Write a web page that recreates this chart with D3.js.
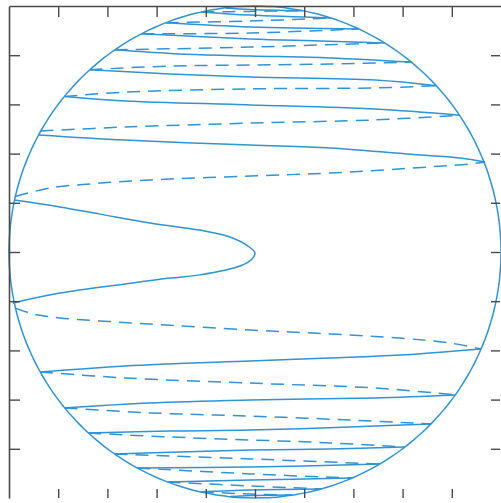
<!DOCTYPE html>
<html>
<head>
<meta charset="utf-8">
<script src="https://cdn.jsdelivr.net/npm/d3@7"></script>
<style>
  html, body { margin: 0; padding: 0; background: #ffffff; }
  svg { display: block; }
</style>
</head>
<body>
<svg id="chart" width="501" height="503"></svg>
<script>
// ---- data (plot units, domain -1..1) ----
const tickValues = [-0.8, -0.6, -0.4, -0.2, 0, 0.2, 0.4, 0.6, 0.8];
const circleRadius = 1;

// solid contour lines: arrays of [x, y]
const solidLines = [
  // central hairpin
  [[-0.980,0.211],[-0.793,0.183],[-0.630,0.154],[-0.427,0.118],[-0.224,0.089],[-0.102,0.061],[-0.028,0.024],[0.000,-0.004],[-0.012,-0.028],[-0.061,-0.057],[-0.224,-0.093],[-0.346,-0.106],[-0.528,-0.130],[-0.793,-0.167],[-0.984,-0.207]],
  // upper half
  [[-0.879,0.476],[-0.528,0.455],[-0.020,0.435],[0.305,0.423],[0.618,0.398],[0.833,0.382],[0.935,0.366]],
  [[-0.775,0.632],[-0.528,0.614],[-0.020,0.598],[0.488,0.581],[0.830,0.556]],
  [[-0.672,0.741],[-0.346,0.724],[-0.020,0.711],[0.488,0.699],[0.737,0.676]],
  [[-0.570,0.822],[-0.305,0.805],[-0.020,0.797],[0.305,0.789],[0.636,0.772]],
  [[-0.462,0.887],[-0.020,0.866],[0.264,0.858],[0.527,0.850]],
  [[-0.362,0.932],[-0.020,0.915],[0.421,0.907]],
  [[-0.218,0.976],[-0.020,0.963],[0.309,0.951]],
  [[-0.120,0.992],[-0.020,0.986],[0.190,0.981]],
  // lower half
  [[-0.873,-0.488],[-0.528,-0.463],[-0.020,-0.443],[0.305,-0.431],[0.589,-0.419],[0.919,-0.394]],
  [[-0.773,-0.634],[-0.427,-0.614],[-0.020,-0.602],[0.488,-0.593],[0.814,-0.581]],
  [[-0.677,-0.736],[-0.346,-0.728],[-0.020,-0.724],[0.386,-0.711],[0.715,-0.699]],
  [[-0.571,-0.821],[-0.305,-0.813],[-0.020,-0.805],[0.305,-0.801],[0.609,-0.793]],
  [[-0.479,-0.878],[-0.020,-0.874],[0.507,-0.862]],
  [[-0.355,-0.935],[-0.020,-0.927],[0.394,-0.919]],
  [[-0.220,-0.975],[-0.020,-0.967],[0.269,-0.963]],
  [[-0.100,-0.994],[-0.020,-0.990],[0.150,-0.988]]
];

// dashed contour lines: arrays of [x, y]
const dashedLines = [
  // upper half
  [[-0.974,0.226],[-0.833,0.260],[-0.630,0.280],[-0.427,0.293],[-0.020,0.309],[0.305,0.321],[0.711,0.346],[0.874,0.358],[0.935,0.366]],
  [[-0.871,0.492],[-0.528,0.508],[-0.020,0.524],[0.488,0.537],[0.830,0.556]],
  [[-0.775,0.632],[-0.528,0.650],[-0.020,0.663],[0.488,0.667],[0.737,0.676]],
  [[-0.672,0.741],[-0.346,0.756],[-0.020,0.760],[0.305,0.764],[0.636,0.772]],
  [[-0.570,0.822],[-0.020,0.833],[0.527,0.850]],
  [[-0.462,0.887],[-0.020,0.890],[0.421,0.907]],
  [[-0.362,0.932],[-0.020,0.939],[0.309,0.951]],
  [[-0.218,0.976],[-0.020,0.978],[0.190,0.981]],
  // lower half
  [[-0.974,-0.228],[-0.902,-0.252],[-0.793,-0.268],[-0.630,-0.280],[-0.427,-0.293],[-0.020,-0.317],[0.305,-0.333],[0.589,-0.350],[0.793,-0.370],[0.919,-0.394]],
  [[-0.873,-0.488],[-0.528,-0.512],[-0.020,-0.533],[0.488,-0.553],[0.814,-0.581]],
  [[-0.773,-0.634],[-0.427,-0.654],[-0.020,-0.667],[0.386,-0.683],[0.715,-0.699]],
  [[-0.677,-0.736],[-0.346,-0.752],[-0.020,-0.764],[0.305,-0.776],[0.609,-0.793]],
  [[-0.571,-0.821],[-0.020,-0.841],[0.507,-0.862]],
  [[-0.479,-0.878],[-0.020,-0.902],[0.394,-0.919]],
  [[-0.355,-0.935],[-0.020,-0.951],[0.269,-0.963]],
  [[-0.220,-0.975],[-0.020,-0.984],[0.150,-0.988]]
];

// ---- layout ----
const margin = { left: 9, top: 6, right: 0, bottom: 5 };
const plotW = 492, plotH = 492;
const lineColor = "#2f93d4";
const axisColor = "#4a4a4a";
const lineW = 1.5;

const svg = d3.select("#chart");
const x = d3.scaleLinear().domain([-1, 1]).range([margin.left, margin.left + plotW]);
const y = d3.scaleLinear().domain([-1, 1]).range([margin.top + plotH, margin.top]);

const g = svg.append("g");

// circle boundary
const circlePts = d3.range(0, 360, 2).map(a => [circleRadius * Math.cos(a * Math.PI / 180), circleRadius * Math.sin(a * Math.PI / 180)]);
g.append("path")
  .datum(circlePts)
  .attr("d", d3.line().x(d => x(d[0])).y(d => y(d[1])).curve(d3.curveCatmullRomClosed))
  .attr("fill", "none")
  .attr("stroke", lineColor)
  .attr("stroke-width", lineW);

const lineGen = d3.line().x(d => x(d[0])).y(d => y(d[1])).curve(d3.curveCatmullRom.alpha(0.5));

g.selectAll("path.solid")
  .data(solidLines)
  .join("path")
  .attr("class", "solid")
  .attr("d", lineGen)
  .attr("fill", "none")
  .attr("stroke", lineColor)
  .attr("stroke-width", lineW);

g.selectAll("path.dashed")
  .data(dashedLines)
  .join("path")
  .attr("class", "dashed")
  .attr("d", lineGen)
  .attr("fill", "none")
  .attr("stroke", lineColor)
  .attr("stroke-width", lineW)
  .attr("stroke-dasharray", "13,8");

// axes with inward ticks, no labels
function styleAxis(sel, keepDomain) {
  sel.selectAll("text").remove();
  sel.selectAll("line").attr("stroke", axisColor).attr("stroke-width", 1.4);
  if (keepDomain) sel.select(".domain").attr("stroke", axisColor).attr("stroke-width", 1.6);
  else sel.select(".domain").remove();
}
svg.append("g").attr("transform", `translate(0,${y(1)})`)
  .call(d3.axisTop(x).tickValues(tickValues).tickSize(-11).tickSizeOuter(0).tickFormat(""))
  .call(s => styleAxis(s, true));
svg.append("g").attr("transform", `translate(0,${y(-1)})`)
  .call(d3.axisBottom(x).tickValues(tickValues).tickSize(-9).tickSizeOuter(0).tickFormat(""))
  .call(s => styleAxis(s, false));
svg.append("g").attr("transform", `translate(${x(-1)},0)`)
  .call(d3.axisLeft(y).tickValues(tickValues).tickSize(-11).tickSizeOuter(0).tickFormat(""))
  .call(s => styleAxis(s, true));
svg.append("g").attr("transform", `translate(${x(1) - 1},0)`)
  .call(d3.axisRight(y).tickValues(tickValues).tickSize(-9).tickSizeOuter(0).tickFormat(""))
  .call(s => styleAxis(s, false));
</script>
</body>
</html>
